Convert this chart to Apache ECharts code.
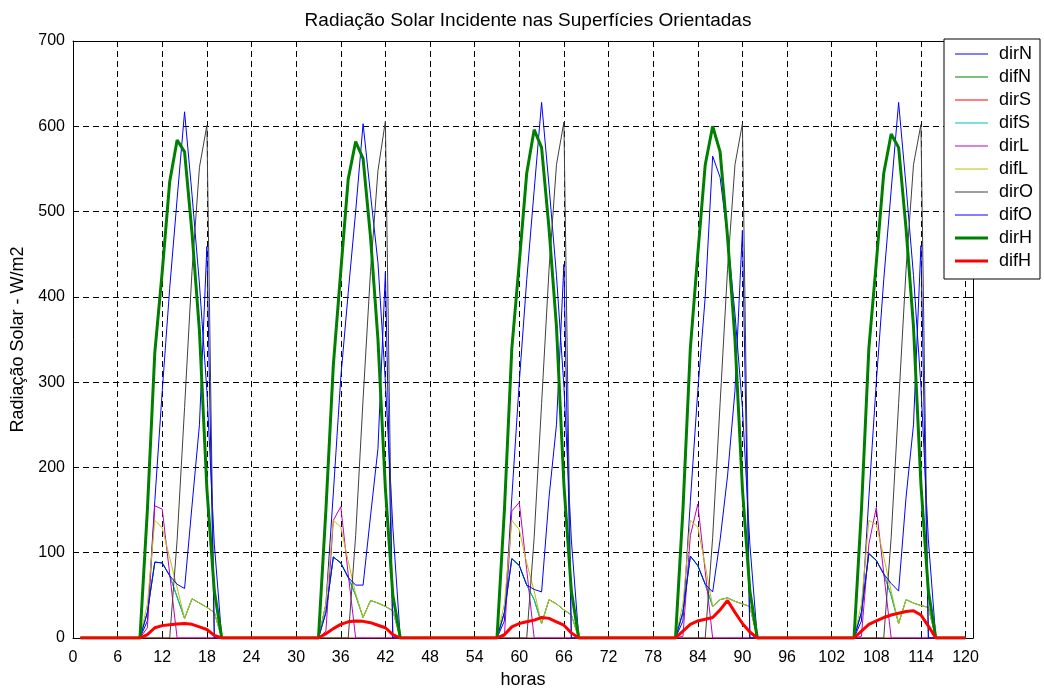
<!DOCTYPE html>
<html><head><meta charset="utf-8">
<script src="https://cdn.jsdelivr.net/npm/echarts@6/dist/echarts.min.js"></script>
<style>html,body{margin:0;padding:0;background:#fff}#c{width:1044px;height:690px}</style>
</head><body><div id="c"></div>
<script>
// hour at which each day's daylight block (12 hourly values) starts
const dayStart = [9, 33, 57, 81, 105];
const xTicks = [0, 6, 12, 18, 24, 30, 36, 42, 48, 54, 60, 66, 72, 78, 84, 90, 96, 102, 108, 114, 120];

const dirN = [
  [0, 20, 161, 290, 410, 515, 617, 520, 415, 290, 110, 0],
  [0, 40, 170, 305, 405, 500, 603, 520, 440, 300, 130, 0],
  [0, 20, 165, 300, 420, 525, 628, 530, 425, 295, 115, 0],
  [0, 20, 160, 290, 400, 565, 540, 470, 380, 270, 110, 0],
  [0, 20, 165, 300, 420, 525, 628, 530, 425, 295, 115, 0]
];
const difN = [
  [0, 30, 89, 88, 73, 48, 23, 46, 41, 36, 30, 0],
  [0, 30, 95, 88, 71, 50, 24, 44, 41, 37, 32, 0],
  [0, 30, 93, 85, 62, 45, 17, 45, 40, 33, 27, 0],
  [0, 30, 96, 85, 63, 37, 45, 47, 43, 40, 37, 0],
  [0, 30, 99, 91, 75, 50, 17, 45, 41, 38, 36, 0]
];
const dirS = [
  [0, 0, 0, 0, 0, 0, 0, 0, 0, 0, 0, 0],
  [0, 0, 0, 0, 0, 0, 0, 0, 0, 0, 0, 0],
  [0, 0, 0, 0, 0, 0, 0, 0, 0, 0, 0, 0],
  [0, 0, 0, 0, 0, 0, 0, 0, 0, 0, 0, 0],
  [0, 0, 0, 0, 0, 0, 0, 0, 0, 0, 0, 0]
];
const difS = [
  [0, 30, 89, 88, 73, 48, 23, 46, 41, 36, 30, 0],
  [0, 30, 95, 88, 71, 50, 24, 44, 41, 37, 32, 0],
  [0, 30, 93, 85, 62, 45, 17, 45, 40, 33, 27, 0],
  [0, 30, 96, 85, 63, 37, 45, 47, 43, 40, 37, 0],
  [0, 30, 99, 91, 75, 50, 17, 45, 41, 38, 36, 0]
];
const dirL = [
  [0, 12, 155, 151, 75, 0, 0, 0, 0, 0, 0, 0],
  [0, 8, 138, 154, 75, 0, 0, 0, 0, 0, 0, 0],
  [0, 2, 149, 159, 80, 0, 0, 0, 0, 0, 0, 0],
  [0, 2, 120, 157, 78, 0, 0, 0, 0, 0, 0, 0],
  [0, 2, 110, 153, 76, 0, 0, 0, 0, 0, 0, 0]
];
const difL = [
  [0, 40, 138, 129, 94, 59, 23, 46, 41, 36, 30, 0],
  [0, 40, 138, 130, 90, 52, 24, 44, 41, 37, 32, 0],
  [0, 40, 138, 127, 88, 55, 17, 45, 40, 33, 27, 0],
  [0, 40, 138, 130, 85, 37, 45, 47, 43, 40, 37, 0],
  [0, 40, 138, 133, 95, 55, 17, 45, 41, 38, 36, 0]
];
const dirO = [
  [0, 0, 0, 0, 0, 115, 270, 430, 552, 601, 0, 0],
  [0, 0, 0, 0, 0, 120, 280, 430, 548, 606, 0, 0],
  [0, 0, 0, 0, 0, 118, 275, 432, 555, 605, 0, 0],
  [0, 0, 0, 0, 0, 118, 275, 432, 555, 603, 0, 0],
  [0, 0, 0, 0, 0, 118, 275, 432, 555, 602, 0, 0]
];
const difO = [
  [0, 30, 89, 88, 73, 63, 58, 155, 250, 459, 0, 0],
  [0, 30, 95, 88, 71, 62, 62, 143, 222, 429, 0, 0],
  [0, 30, 93, 85, 62, 57, 54, 165, 250, 438, 0, 0],
  [0, 30, 96, 85, 63, 54, 115, 190, 290, 478, 0, 0],
  [0, 30, 99, 91, 75, 64, 55, 165, 250, 460, 0, 0]
];
const dirH = [
  [0, 150, 335, 430, 535, 584, 570, 475, 360, 175, 55, 0],
  [0, 150, 320, 430, 538, 582, 562, 470, 350, 175, 50, 0],
  [0, 150, 340, 440, 545, 596, 575, 480, 365, 180, 55, 0],
  [0, 150, 340, 450, 555, 600, 570, 470, 350, 175, 55, 0],
  [0, 150, 340, 440, 545, 591, 575, 480, 365, 180, 55, 0]
];
const difH = [
  [0, 4, 12, 14.5, 15.5, 16.5, 17, 16, 13, 10, 3, 0],
  [0, 5, 11, 16, 19, 20, 19.5, 18, 15, 12, 4, 0],
  [0, 4, 13, 17, 19, 21, 24, 23, 19, 15, 6, 0],
  [0, 8, 16, 20, 22, 24, 33, 44, 30, 17, 7, 0],
  [0, 8, 16, 20, 24, 27, 29, 31, 32, 27, 14, 0]
];

const seriesNames = ['dirN','difN','dirS','difS','dirL','difL','dirO','difO','dirH','difH'];
const seriesData = [dirN, difN, dirS, difS, dirL, difL, dirO, difO, dirH, difH];
const colors = ['#0000ff','#008000','#ff0000','#00bfbf','#bf00bf','#bfbf00','#404040','#0000ff','#008000','#ff0000'];
const widths = [1,1,1,1,1,1,1,1,3,3];

function build(days) {
  const pts = [];
  for (let h = 1; h <= 120; h++) pts.push([h, 0]);
  days.forEach((d, i) => d.forEach((v, k) => { pts[dayStart[i] + k - 1][1] = v; }));
  return pts;
}

const FONT = "'Liberation Sans', Arial, sans-serif";
const chart = echarts.init(document.getElementById('c'), null, {renderer: 'canvas'});
const splitDash = {show: true, lineStyle: {color: '#000', type: [6, 4], width: 1}};
const option = {
  animation: false,
  backgroundColor: '#fff',
  title: {
    text: 'Radiação Solar Incidente nas Superfícies Orientadas',
    left: 523, top: 6, textAlign: 'center',
    textStyle: {fontFamily: FONT, fontSize: 19, fontWeight: 'normal', color: '#000'}
  },
  grid: {left: 73, right: 71, top: 41, bottom: 52, show: false, containLabel: false, outerBoundsMode: 'none'},
  legend: {
    orient: 'vertical', left: 944, top: 39,
    itemWidth: 33, itemHeight: 14, itemGap: 5,
    padding: [6, 7, 9, 11],
    backgroundColor: '#fff', borderColor: '#000', borderWidth: 1, borderRadius: 0,
    textStyle: {fontFamily: FONT, fontSize: 18, color: '#000', padding: [0, 0, 0, 6]},
    symbolKeepAspect: true,
    data: seriesNames.map((n, i) => ({
      name: n,
      icon: widths[i] > 1 ? 'path://M0,0H33V3H0Z' : 'path://M0,0H33V1H0Z',
      itemStyle: {color: colors[i]}
    }))
  },
  xAxis: [{
    type: 'value', min: 0, max: 121, interval: 6,
    name: 'horas', nameLocation: 'middle', nameGap: 33,
    nameTextStyle: {fontFamily: FONT, fontSize: 18, color: '#000'},
    axisLine: {show: true, onZero: false, lineStyle: {color: '#000'}},
    axisTick: {show: true, inside: true, length: 5, lineStyle: {color: '#000'}},
    axisLabel: {fontFamily: FONT, fontSize: 16, color: '#000', margin: 12, showMaxLabel: false,
      formatter: v => (xTicks.indexOf(v) >= 0 ? String(v) : '')},
    splitLine: splitDash
  }, {
    type: 'value', min: 0, max: 121, interval: 6, position: 'top',
    axisLine: {show: true, onZero: false, lineStyle: {color: '#000'}},
    axisTick: {show: true, inside: true, length: 5, lineStyle: {color: '#000'}},
    axisLabel: {show: false}, splitLine: {show: false}
  }],
  yAxis: [{
    type: 'value', min: 0, max: 700, interval: 100,
    name: 'Radiação Solar - W/m2', nameLocation: 'middle', nameGap: 46, nameRotate: 90,
    nameTextStyle: {fontFamily: FONT, fontSize: 18, color: '#000'},
    axisLine: {show: true, onZero: false, lineStyle: {color: '#000'}},
    axisTick: {show: true, inside: true, length: 5, lineStyle: {color: '#000'}},
    axisLabel: {fontFamily: FONT, fontSize: 16, color: '#000', margin: 8},
    splitLine: splitDash
  }, {
    type: 'value', min: 0, max: 700, interval: 100, position: 'right',
    axisLine: {show: true, onZero: false, lineStyle: {color: '#000'}},
    axisTick: {show: true, inside: true, length: 5, lineStyle: {color: '#000'}},
    axisLabel: {show: false}, splitLine: {show: false}
  }],
  series: seriesNames.map((n, i) => ({
    name: n, type: 'line', xAxisIndex: 0, yAxisIndex: 0,
    data: build(seriesData[i]),
    symbol: 'none', showSymbol: false,
    color: colors[i],
    lineStyle: {color: colors[i], width: widths[i]},
    itemStyle: {color: colors[i]},
    emphasis: {disabled: true}
  }))
};
chart.setOption(option);
</script>
</body></html>
